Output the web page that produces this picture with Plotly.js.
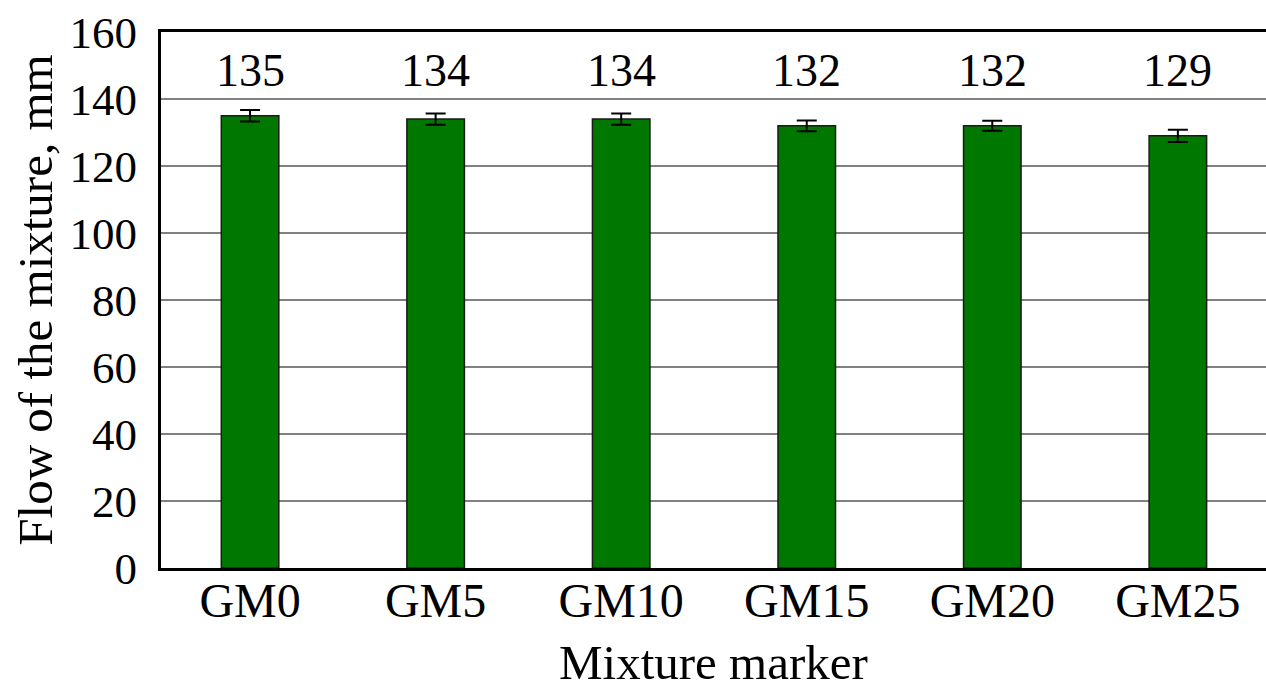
<!DOCTYPE html>
<html>
<head>
<meta charset="utf-8">
<script src="https://cdn.plot.ly/plotly-3.0.1.min.js"></script>
<style>
  html, body { margin: 0; padding: 0; background: #fff; }
  #chart { width: 1266px; height: 690px; }
</style>
</head>
<body>
<div id="chart"></div>
<script>
// Flow (spread) of each mixture, mm, with standard deviation
const mixtures = ["GM0", "GM5", "GM10", "GM15", "GM20", "GM25"];
const flow = [135, 134, 134, 132, 132, 129];
const flowError = [1.7, 1.7, 1.7, 1.6, 1.5, 1.8];
const yTicks = [0, 20, 40, 60, 80, 100, 120, 140, 160];
const xTitle = "Mixture marker";
const yTitle = "Flow of the mixture, mm";

const serif = "Liberation Serif, Times New Roman, serif";

const bars = {
  type: "bar",
  x: mixtures.map((_, i) => i),
  y: flow,
  width: 0.31,
  marker: { color: "#007800", line: { color: "#1a1a1a", width: 1.5 } },
  error_y: { type: "data", array: flowError, visible: true, color: "#000", thickness: 2, width: 10 },
  hoverinfo: "x+y"
};

// value labels placed in a row above the bars
const labels = flow.map((v, i) => ({
  x: i, y: 148.5, xref: "x", yref: "y",
  text: String(v), showarrow: false,
  font: { family: serif, size: 46, color: "#000" },
  xanchor: "center", yanchor: "middle"
}));

// x-axis title drawn as an annotation so it can sit close to the bottom edge
labels.push({
  x: 0.5, y: 0, xref: "paper", yref: "paper",
  text: xTitle, showarrow: false,
  font: { family: serif, size: 49, color: "#000" },
  xanchor: "center", yanchor: "middle", yshift: -94
});

const layout = {
  width: 1266, height: 690,
  margin: { l: 161, r: 0, t: 32, b: 122, pad: 0 },
  paper_bgcolor: "#fff", plot_bgcolor: "#fff",
  showlegend: false,
  bargap: 0,
  xaxis: {
    range: [-0.48, 5.475],
    tickmode: "array",
    tickvals: mixtures.map((_, i) => i),
    ticktext: mixtures,
    ticks: "", ticklen: 0,
    ticklabelstandoff: -12,
    tickfont: { family: serif, size: 48, color: "#000" },
    showgrid: false, zeroline: false,
    showline: true, linecolor: "#000", linewidth: 3, mirror: true
  },
  yaxis: {
    range: [0, 160],
    tickmode: "array",
    tickvals: yTicks,
    ticktext: yTicks.map(String),
    ticks: "outside", ticklen: 12, tickcolor: "rgba(0,0,0,0)",
    tickfont: { family: serif, size: 45, color: "#000" },
    showgrid: true, gridcolor: "#808080", gridwidth: 2,
    zeroline: false,
    showline: true, linecolor: "#000", linewidth: 3,
    title: { text: yTitle, font: { family: serif, size: 49, color: "#000" }, standoff: 2 }
  },
  annotations: labels
};

Plotly.newPlot("chart", [bars], layout, { staticPlot: true, displayModeBar: false });
</script>
</body>
</html>
